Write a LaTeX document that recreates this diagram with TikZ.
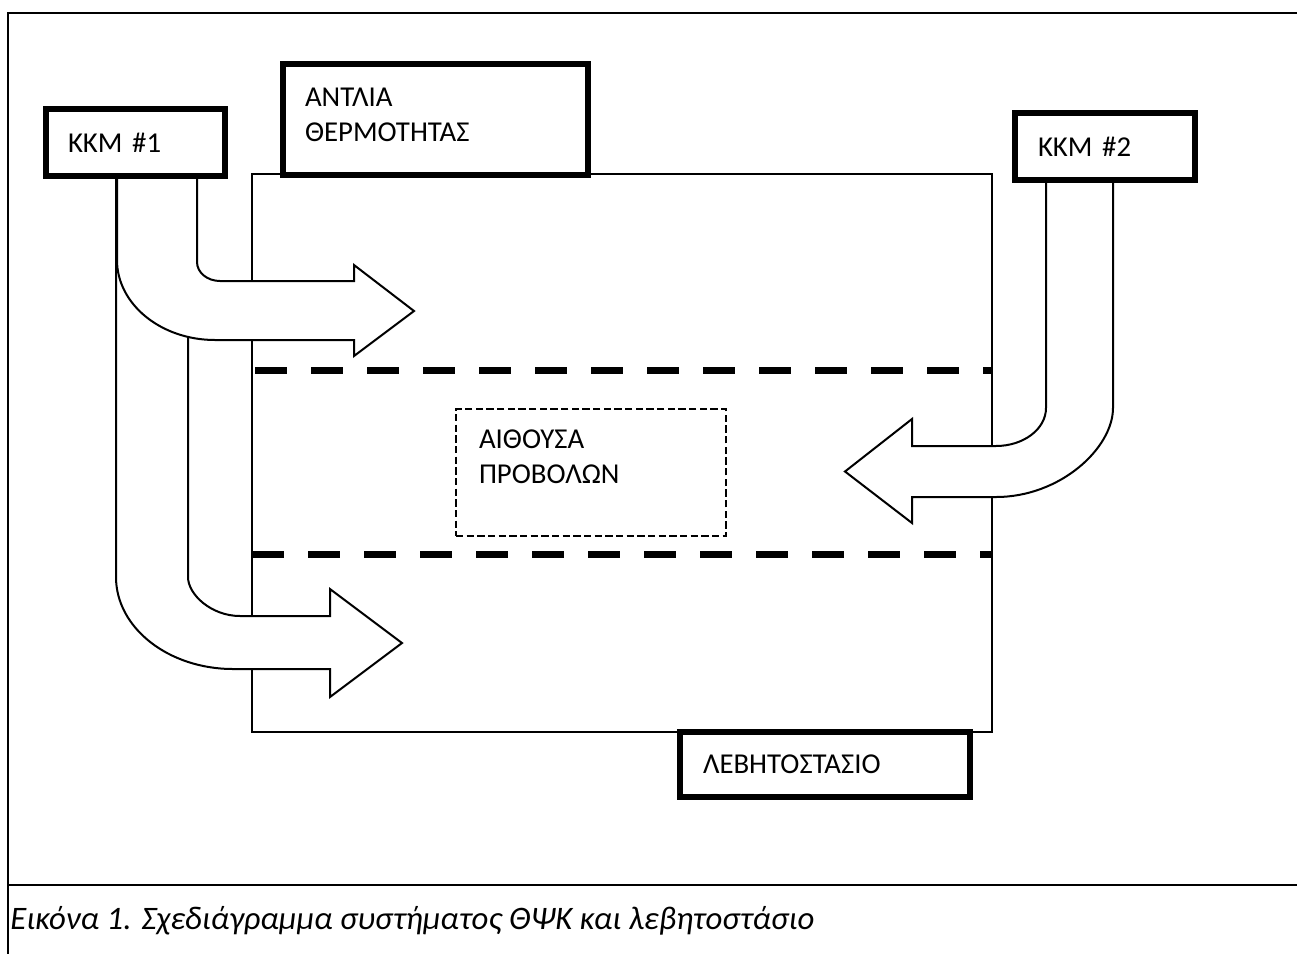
\documentclass[tikz,border=0pt]{standalone}
\usepackage{fontspec}
\setmainfont{Carlito}

\begin{document}
\begin{tikzpicture}[x=0.75pt, y=-0.75pt,
    font=\fontsize{21.6pt}{26.25pt}\selectfont,
    unit/.style={draw, line width=4.5pt, fill=white, align=left, inner ysep=0pt},
    flow/.style={draw, line width=1.5pt, fill=white, line join=miter},
    zone/.style={line width=5.25pt, dash pattern=on 24pt off 18pt}]

    \useasboundingbox (0,0) rectangle (1297,954);

    \draw[line width=2pt] (1297,13) -- (8,13) -- (8,954);
    \draw[line width=2pt] (8,885) -- (1297,885);

    \draw[line width=1.5pt] (252,174) rectangle (992,732);

    \draw[zone] (255,370) -- (992,370);
    \draw[zone] (252,554) -- (992,554);

    \node[draw, line width=1.2pt, dash pattern=on 5.5pt off 2.5pt, align=left,
          inner xsep=17.25pt, inner ysep=0pt, text width=168pt, minimum height=95.25pt,
          text height=14pt, text depth=50pt] (aithousa) at (591,472.5)
    {ΑΙΘΟΥΣΑ\\ΠΡΟΒΟΛΩΝ};

    \draw[flow] (116,176) -- (116,577)
        .. controls (116,627.8) and (168.4,669) .. (233,669)
        -- (330,669) -- (330,697) -- (402,643) -- (330,589) -- (330,616) -- (240,616)
        .. controls (211.3,616) and (188,594.5) .. (188,577)
        -- (188,176) -- cycle;

    \draw[flow] (117,176) -- (117,260)
        .. controls (117,304.2) and (160.9,340) .. (215,340)
        -- (354,340) -- (354,356) -- (414,311) -- (354,265) -- (354,281) -- (220,281)
        .. controls (207.3,281) and (197,272.5) .. (197,262)
        -- (197,176) -- cycle;

    \draw[flow] (1046,180) -- (1046,408)
        .. controls (1046,429) and (1023.6,446) .. (996,446)
        -- (912,446) -- (912,419) -- (845,471.5) -- (912,523) -- (912,497) -- (996,497)
        .. controls (1060.6,497) and (1113,447.8) .. (1113,408)
        -- (1113,180) -- cycle;

    \node[unit, inner xsep=16.5pt, text width=101.25pt, minimum height=50.25pt] (kkm1) at (135.5,142.5)
    {ΚΚΜ \#1};

    \node[unit, inner xsep=16.5pt, text width=195.75pt, minimum height=83.25pt,
          text height=14pt, text depth=33pt] (antlia) at (435.5,119.5)
    {ΑΝΤΛΙΑ\\ΘΕΡΜΟΤΗΤΑΣ};

    \node[unit, inner xsep=17.25pt, text width=100.5pt, minimum height=50.25pt] (kkm2) at (1105,146.5)
    {ΚΚΜ \#2};

    \node[unit, inner xsep=17.25pt, text width=183pt, minimum height=48.75pt] (levitostasio) at (825,764.5)
    {ΛΕΒΗΤΟΣΤΑΣΙΟ};

    \node[anchor=base west, inner sep=0pt, font=\fontsize{24.6pt}{29pt}\selectfont\itshape] (caption) at (10,929)
    {Εικόνα 1. Σχεδιάγραμμα συστήματος ΘΨΚ και λεβητοστάσιο};

\end{tikzpicture}
\end{document}
